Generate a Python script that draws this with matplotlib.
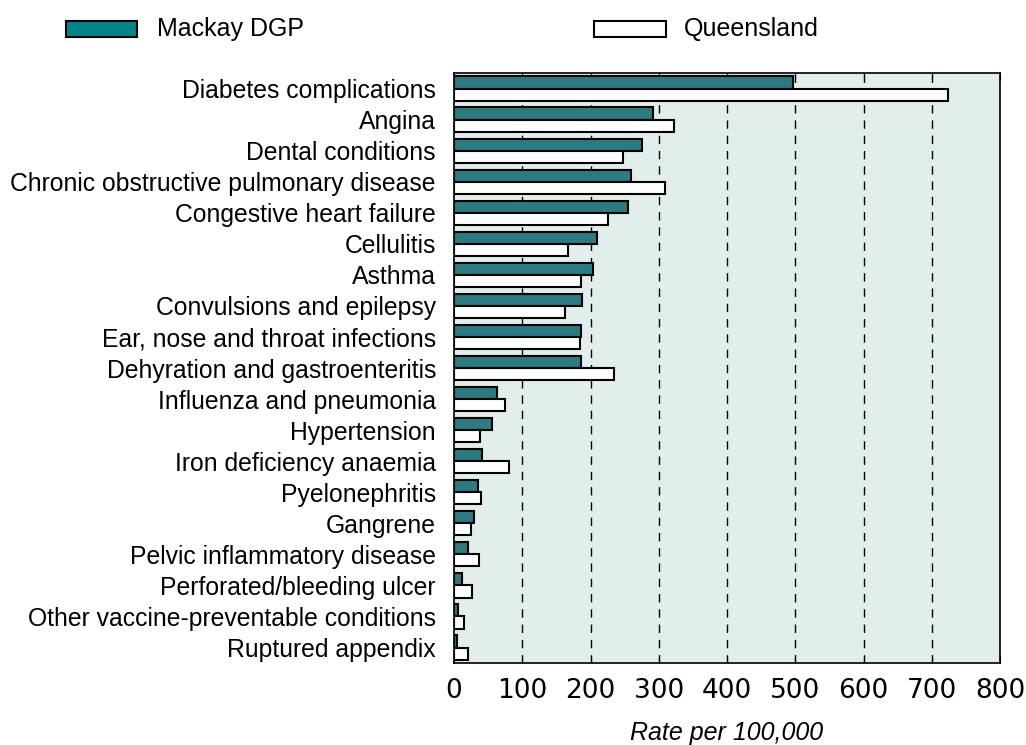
import numpy as np
import matplotlib
matplotlib.use('agg')
import matplotlib.pyplot as plt
from matplotlib.patches import Rectangle

categories = ['Diabetes complications', 'Angina', 'Dental conditions',
              'Chronic obstructive pulmonary disease', 'Congestive heart failure',
              'Cellulitis', 'Asthma', 'Convulsions and epilepsy',
              'Ear, nose and throat infections', 'Dehyration and gastroenteritis',
              'Influenza and pneumonia', 'Hypertension', 'Iron deficiency anaemia',
              'Pyelonephritis', 'Gangrene', 'Pelvic inflammatory disease',
              'Perforated/bleeding ulcer', 'Other vaccine-preventable conditions',
              'Ruptured appendix']
mackay = [497, 292, 275, 260, 255, 209, 203, 188, 186, 186,
          63, 56, 41, 35, 29, 21, 12, 6, 5]
queensland = [724, 322, 248, 309, 226, 167, 186, 163, 184, 234,
              75, 38, 80, 40, 25, 37, 26, 15, 21]
xticks = [0, 100, 200, 300, 400, 500, 600, 700, 800]

plt.rcParams['font.family'] = ['Liberation Sans', 'DejaVu Sans']

fig = plt.figure(figsize=(10.26, 7.45), dpi=100)
ax = fig.add_axes([0.4425, 0.110, 0.5322, 0.792])
ax.set_facecolor('#e2eeeb')

y = np.arange(len(categories))
h = 0.39
ax.barh(y - h/2, mackay, height=h, color='#2a7b82', edgecolor='black', linewidth=1.5, zorder=3)
ax.barh(y + h/2, queensland, height=h, color='white', edgecolor='black', linewidth=1.5, zorder=3)

# dashed vertical gridlines
for v in xticks[1:-1]:
    ax.axvline(v, color='black', linestyle=(0, (6, 5)), linewidth=1.0, zorder=1)

ax.set_xlim(0, 800)
ax.set_ylim(len(categories) - 0.5, -0.5)
ax.set_xticks(xticks)
ax.set_xticklabels([str(t) for t in xticks], fontsize=19, family='DejaVu Sans')
ax.set_yticks(y)
ax.set_yticklabels(categories, fontsize=17.8)
ax.tick_params(axis='y', length=0, pad=13)
ax.tick_params(axis='x', direction='in', length=5, top=True, pad=11)
for s in ax.spines.values():
    s.set_linewidth(1.2)

ax.set_xlabel('Rate per 100,000', fontsize=18, style='italic', labelpad=12)

# legend
fig.patches.append(Rectangle((66/1026, 1-37/745), 71/1026, 16/745, transform=fig.transFigure,
                             facecolor='#00868a', edgecolor='black', linewidth=1.5))
fig.text(157/1026, 1-29/745, 'Mackay DGP', fontsize=18, va='center')
fig.patches.append(Rectangle((594/1026, 1-37/745), 72/1026, 16/745, transform=fig.transFigure,
                             facecolor='white', edgecolor='black', linewidth=1.5))
fig.text(684/1026, 1-29/745, 'Queensland', fontsize=18, va='center')

fig.savefig('out.png', dpi=100)
